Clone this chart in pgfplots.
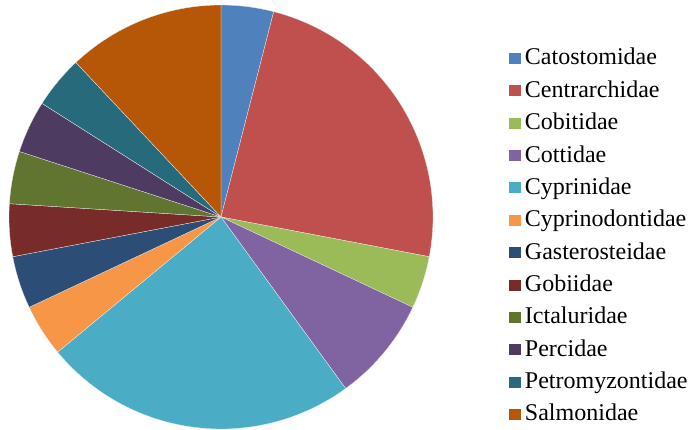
\documentclass[border=0pt]{standalone}
\usepackage{pgfplots}
\pgfplotsset{compat=1.18}
\usepackage{pgfplotstable}
\usepackage{fontspec}
\setmainfont{Liberation Serif}
\definecolor{pie1}{HTML}{4F81BD}
\definecolor{pie2}{HTML}{C0504D}
\definecolor{pie3}{HTML}{9BBB59}
\definecolor{pie4}{HTML}{8064A2}
\definecolor{pie5}{HTML}{4BACC6}
\definecolor{pie6}{HTML}{F79646}
\definecolor{pie7}{HTML}{2C4D75}
\definecolor{pie8}{HTML}{772C2A}
\definecolor{pie9}{HTML}{5F7530}
\definecolor{pie10}{HTML}{4D3B62}
\definecolor{pie11}{HTML}{276A7C}
\definecolor{pie12}{HTML}{B65708}
\pgfplotstableread{
name value
Catostomidae 1
Centrarchidae 6
Cobitidae 1
Cottidae 2
Cyprinidae 6
Cyprinodontidae 1
Gasterosteidae 1
Gobiidae 1
Ictaluridae 1
Percidae 1
Petromyzontidae 1
Salmonidae 3
}\fishdata
\begin{document}
\begin{tikzpicture}
\useasboundingbox (0,0) rectangle (694bp,430bp);
\begin{axis}[
  at={(9bp,1bp)}, anchor=south west,
  scale only axis, width=424bp, height=424bp,
  xmin=-1, xmax=1, ymin=-1, ymax=1,
  hide axis, clip=false,
  legend cell align=left,
  legend image code/.code={\fill[#1,draw=none] (0bp,-5bp) rectangle (12bp,6bp);},
  legend style={draw=none, fill=none, inner sep=0pt, outer sep=0pt,
    at={(1.1792,0.8986)}, anchor=north west,
    font=\fontsize{24bp}{28bp}\selectfont,
    column sep=4bp, row sep=10.36bp,
    nodes={inner sep=0pt, text height=17bp, text depth=5bp}},
]
\pgfmathsetmacro{\total}{0}
\pgfplotsforeachungrouped \i in {0,...,11}{%
  \pgfplotstablegetelem{\i}{value}\of\fishdata
  \pgfmathsetmacro{\total}{\total+\pgfplotsretval}%
}
\pgfmathsetmacro{\cum}{0}
\pgfplotsforeachungrouped \i in {0,...,11}{%
  \pgfplotstablegetelem{\i}{value}\of\fishdata
  \pgfmathsetmacro{\a}{90-360*\cum/\total}%
  \pgfmathsetmacro{\cum}{\cum+\pgfplotsretval}%
  \pgfmathsetmacro{\b}{90-360*\cum/\total}%
  \pgfmathtruncatemacro{\ci}{\i+1}%
  \edef\temp{\noexpand\addplot[fill=pie\ci, draw=white!85!gray, line width=0.3pt, domain=\b:\a, samples=80, variable=\noexpand\t] ({cos(\noexpand\t)},{sin(\noexpand\t)}) -- (axis cs:0,0) -- cycle;}%
  \temp
  \pgfplotstablegetelem{\i}{name}\of\fishdata
  \edef\temp{\noexpand\addlegendentry{\pgfplotsretval}}\temp
}
\end{axis}
\end{tikzpicture}
\end{document}
